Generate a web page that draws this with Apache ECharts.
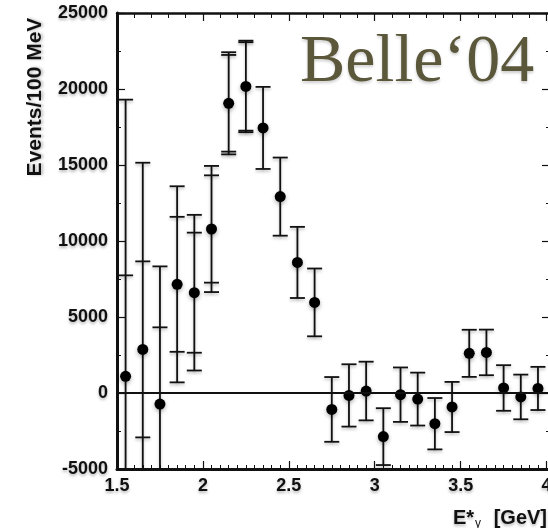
<!DOCTYPE html>
<html>
<head>
<meta charset="utf-8">
<script src="https://cdn.jsdelivr.net/npm/echarts@6/dist/echarts.min.js"></script>
<style>
html,body{margin:0;padding:0;background:#fff;}
#c{width:548px;height:528px;}
</style>
</head>
<body>
<div id="c"></div>
<script>
// ---- data ----
const energies = [1.55,1.65,1.75,1.85,1.95,2.05,2.15,2.25,2.35,2.45,2.55,2.65,2.75,2.85,2.95,3.05,3.15,3.25,3.35,3.45,3.55,3.65,3.75,3.85,3.95];
const events   = [1100,2870,-730,7150,6600,10790,19060,20170,17440,12920,8590,5960,-1080,-160,130,-2870,-110,-400,-2020,-920,2610,2670,330,-260,300];
const statErr  = [6640,5790,5050,4440,3950,3530,3180,2910,2700,2570,2340,2230,2130,2050,1930,1870,1790,1740,1690,1650,1550,1500,1500,1470,1420];
const totalErr = [18200,12280,9060,6450,5120,4150,3360,3010,null,null,null,null,null,null,null,null,null,null,null,null,null,null,null,null,null];
const xTicks = [1.5,2,2.5,3,3.5,4];
const yTicks = [-5000,0,5000,10000,15000,20000,25000];
const chartTitle = "Belle\u201804";
const yTitle = "Events/100 MeV";

const chart = echarts.init(document.getElementById('c'), null, {renderer:'canvas'});

const pts = energies.map((x,i)=>[x, events[i]]);
const errData = energies.map((x,i)=>[x, events[i], statErr[i], totalErr[i] == null ? 0 : totalErr[i]]);

const SH = {textShadowColor:'rgba(0,0,0,0.28)', textShadowBlur:3, textShadowOffsetY:2};
const axisFont = Object.assign({fontFamily:'Liberation Sans, Arial, sans-serif', fontWeight:'bold', fontSize:18, color:'#111'}, SH);
const CAP = 7.5;

function renderErr(params, api){
  const x = api.value(0), y = api.value(1), s = api.value(2), t = api.value(3);
  const outer = Math.max(s, t);
  const top = api.coord([x, y + outer]);
  const bot = api.coord([x, y - outer]);
  const st = {stroke:'#111', lineWidth:1.8, shadowColor:'rgba(0,0,0,0.25)', shadowBlur:3, shadowOffsetY:2};
  const children = [{
    type:'line', shape:{x1:top[0], y1:top[1], x2:bot[0], y2:bot[1]}, style:st
  }];
  const caps = [y + s, y - s];
  if (t) { caps.push(y + t, y - t); }
  caps.forEach(v=>{
    const p = api.coord([x, v]);
    children.push({type:'line', shape:{x1:p[0]-CAP, y1:p[1], x2:p[0]+CAP, y2:p[1]}, style:st});
  });
  return {type:'group', children};
}

const option = {
  backgroundColor:'#fff',
  animation:false,
  grid:{left:117, right:-2, top:13, bottom:59, outerBoundsMode:'none', containLabel:false},
  xAxis:[{
    type:'value', position:'bottom', min:xTicks[0], max:4.02, interval:0.5,
    axisLine:{show:true, onZero:false, lineStyle:{color:'#111', width:3}},
    axisTick:{show:true, inside:true, length:8, lineStyle:{color:'#111', width:1.2}},
    minorTick:{show:true, splitNumber:10, length:4, lineStyle:{color:'#111', width:1}},
    splitLine:{show:false},
    axisLabel:Object.assign({margin:8, formatter:v=>String(v), showMaxLabel:false, hideOverlap:false}, axisFont)
  },{
    type:'value', position:'top', min:xTicks[0], max:4.02, interval:0.5,
    axisLine:{show:true, onZero:false, lineStyle:{color:'#111', width:2.5}},
    axisTick:{show:true, inside:true, length:8, lineStyle:{color:'#111', width:1.2}},
    minorTick:{show:true, splitNumber:5, length:5, lineStyle:{color:'#111', width:1}},
    splitLine:{show:false}, axisLabel:{show:false}
  }],
  yAxis:[{
    type:'value', position:'left', min:yTicks[0], max:yTicks[yTicks.length-1], interval:5000,
    axisLine:{show:true, onZero:false, lineStyle:{color:'#111', width:3}},
    axisTick:{show:true, inside:true, length:8, lineStyle:{color:'#111', width:1.2}},
    minorTick:{show:true, splitNumber:2, length:4, lineStyle:{color:'#111', width:1}},
    splitLine:{show:false},
    axisLabel:Object.assign({margin:9, formatter:v=>String(v)}, axisFont)
  },{
    type:'value', position:'right', min:yTicks[0], max:yTicks[yTicks.length-1], interval:5000,
    axisLine:{show:true, onZero:false, lineStyle:{color:'#111', width:3}},
    axisTick:{show:true, inside:true, length:8, lineStyle:{color:'#111', width:1.2}},
    minorTick:{show:true, splitNumber:2, length:4, lineStyle:{color:'#111', width:1}},
    splitLine:{show:false}, axisLabel:{show:false}
  }],
  series:[{
    type:'custom', xAxisIndex:0, yAxisIndex:0, clip:true, silent:true,
    renderItem:renderErr, data:errData, z:3
  },{
    type:'scatter', xAxisIndex:0, yAxisIndex:0, data:pts, symbol:'circle', symbolSize:11,
    itemStyle:{color:'#000', opacity:1, shadowColor:'rgba(0,0,0,0.3)', shadowBlur:4, shadowOffsetY:2}, z:4, silent:true,
    markLine:{silent:true, symbol:'none', label:{show:false},
      lineStyle:{color:'#111', width:2, type:'solid'}, data:[{yAxis:0}]}
  }],
  graphic:[{
    type:'text', x:35, y:97, rotation:Math.PI/2,
    style:Object.assign({text:yTitle, fontFamily:'Liberation Sans, Arial, sans-serif', fontWeight:'bold', fontSize:21, fill:'#111', align:'center', verticalAlign:'middle'}, {textShadowColor:'rgba(0,0,0,0.28)', textShadowBlur:3, textShadowOffsetX:2})
  },{
    type:'text', x:453, y:518,
    style:Object.assign({text:'E*', fontFamily:'Liberation Sans, Arial, sans-serif', fontWeight:'bold', fontSize:20, fill:'#111', align:'left', verticalAlign:'middle'}, SH)
  },{
    type:'text', x:475, y:524,
    style:{text:'\u03b3', fontFamily:'Liberation Sans, Arial, sans-serif', fontSize:12, fill:'#111', align:'left', verticalAlign:'middle'}
  },{
    type:'text', x:547, y:518,
    style:Object.assign({text:'[GeV]', fontFamily:'Liberation Sans, Arial, sans-serif', fontWeight:'bold', fontSize:20, fill:'#111', align:'right', verticalAlign:'middle'}, SH)
  },{
    type:'text', x:300, y:29, z:10,
    style:{text:chartTitle, fontFamily:'Liberation Serif, Times New Roman, serif', fontSize:68, fill:'#5b573a', align:'left', verticalAlign:'top', textShadowColor:'rgba(0,0,0,0.2)', textShadowBlur:3, textShadowOffsetY:2}
  }]
};
chart.setOption(option);
</script>
</body>
</html>
